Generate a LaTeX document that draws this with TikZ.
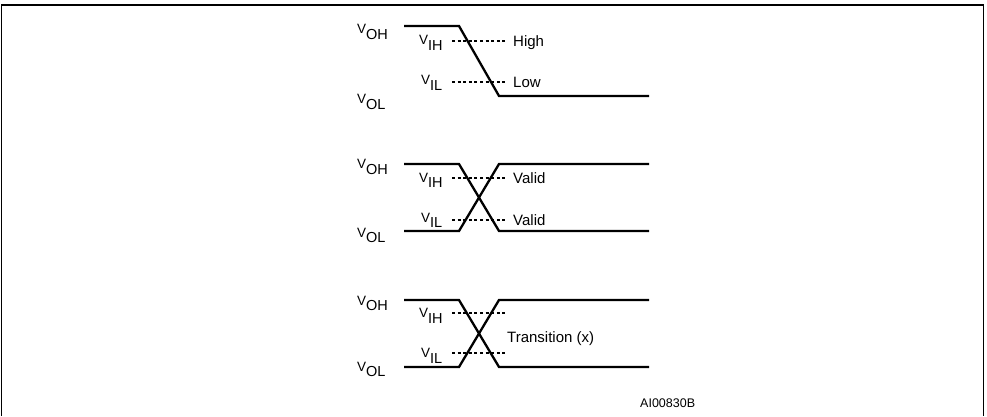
\documentclass[tikz,border=0pt]{standalone}
\usepackage{fontspec}
\setmainfont{Liberation Sans}
\newcommand\sigv[1]{{\fontsize{13.5}{13.5}\selectfont V}\raisebox{-5.5pt}{\fontsize{14.5}{14.5}\selectfont #1}}
\tikzset{
  wave/.style={line width=2.3pt, line join=miter},
  guide/.style={line width=1.25pt, dash pattern=on 3pt off 2.6pt},
  lbl/.style={anchor=base west, inner sep=0pt, font=\fontsize{15}{15}\selectfont},
  frame/.style={line width=1.8pt}
}
\begin{document}
\begin{tikzpicture}[x=1pt,y=-1pt]
\useasboundingbox (0,0) rectangle (987,416);
\draw[frame] (1.5,416) -- (1.5,5) -- (983.5,5) -- (983.5,416);

% ---------- panel 1 ----------
\node[lbl] (p1oh) at (357,33.5) {\sigv{OH}};
\node[lbl] (p1ih) at (419,44.5) {\sigv{IH}};
\node[lbl] (p1il) at (421,84.5) {\sigv{IL}};
\node[lbl] (p1ol) at (357,103.5) {\sigv{OL}};
\draw[guide] (452,41) -- (505,41);
\draw[guide] (452,82) -- (505,82);
\node[lbl] (p1hi) at (513,46.5) {High};
\node[lbl] (p1lo) at (513,87) {Low};
\draw[wave] (404,26) -- (459,26) -- (499,96) -- (649,96);

% ---------- panel 2 ----------
\node[lbl] (p2oh) at (357,168.5) {\sigv{OH}};
\node[lbl] (p2ih) at (419,182) {\sigv{IH}};
\node[lbl] (p2il) at (421,222) {\sigv{IL}};
\node[lbl] (p2ol) at (357,237) {\sigv{OL}};
\draw[guide] (452,178) -- (505,178);
\draw[guide] (452,220) -- (505,220);
\node[lbl] (p2va) at (513,183) {Valid};
\node[lbl] (p2vb) at (513,225) {Valid};
\draw[wave] (404,164) -- (459,164) -- (499,231) -- (649,231);
\draw[wave] (404,231) -- (459,231) -- (499,164) -- (649,164);

% ---------- panel 3 ----------
\node[lbl] (p3oh) at (357,305) {\sigv{OH}};
\node[lbl] (p3ih) at (419,317.5) {\sigv{IH}};
\node[lbl] (p3il) at (421,357.5) {\sigv{IL}};
\node[lbl] (p3ol) at (357,371) {\sigv{OL}};
\draw[guide] (452,313) -- (505,313);
\draw[guide] (452,353) -- (505,353);
\node[lbl] (p3tr) at (507,342) {Transition (x)};
\draw[wave] (404,300) -- (459,300) -- (499,367) -- (649,367);
\draw[wave] (404,367) -- (459,367) -- (499,300) -- (649,300);

\node[anchor=base west, inner sep=0pt, font=\fontsize{12.5}{12.5}\selectfont] (code) at (640,407) {AI00830B};
\end{tikzpicture}
\end{document}
